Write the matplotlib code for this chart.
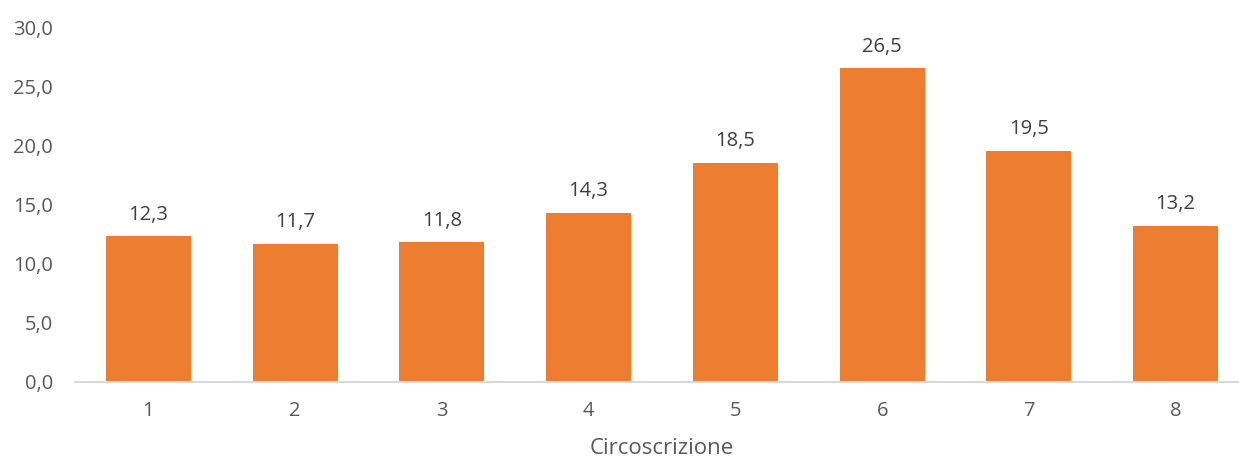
import matplotlib.pyplot as plt

categories = ['1', '2', '3', '4', '5', '6', '7', '8']
values = [12.3, 11.7, 11.8, 14.3, 18.5, 26.5, 19.5, 13.2]
yticks = [0, 5, 10, 15, 20, 25, 30]

plt.rcParams['font.family'] = ['Open Sans', 'DejaVu Sans']

fig = plt.figure(figsize=(12.39, 4.62), dpi=100)
ax = fig.add_axes([75 / 1239, 80 / 462, 1174 / 1239, 355 / 462])

x = range(len(categories))
bars = ax.bar(x, values, width=0.58, color='#ED7D31', zorder=2)

for xi, v in zip(x, values):
    ax.annotate(f'{v:.1f}'.replace('.', ','), (xi, v), xytext=(0, 8.5),
                textcoords='offset points', ha='center', va='bottom',
                fontsize=14.5, color='#404040')

ax.set_xlim(-0.5, len(categories) - 0.5)
ax.set_ylim(0, 30)
ax.set_xticks(list(x))
ax.set_xticklabels(categories)
ax.set_yticks(yticks)
ax.set_yticklabels([f'{t:.1f}'.replace('.', ',') for t in yticks])
ax.tick_params(axis='both', length=0, labelsize=14.5, colors='#595959')
ax.tick_params(axis='x', pad=14)
ax.tick_params(axis='y', pad=16)

for s in ['top', 'right', 'left']:
    ax.spines[s].set_visible(False)
ax.spines['bottom'].set_color('#D9D9D9')
ax.spines['bottom'].set_linewidth(1.5)

ax.set_xlabel('Circoscrizione', fontsize=16, color='#595959', labelpad=12)

fig.savefig('out.png', dpi=100)
